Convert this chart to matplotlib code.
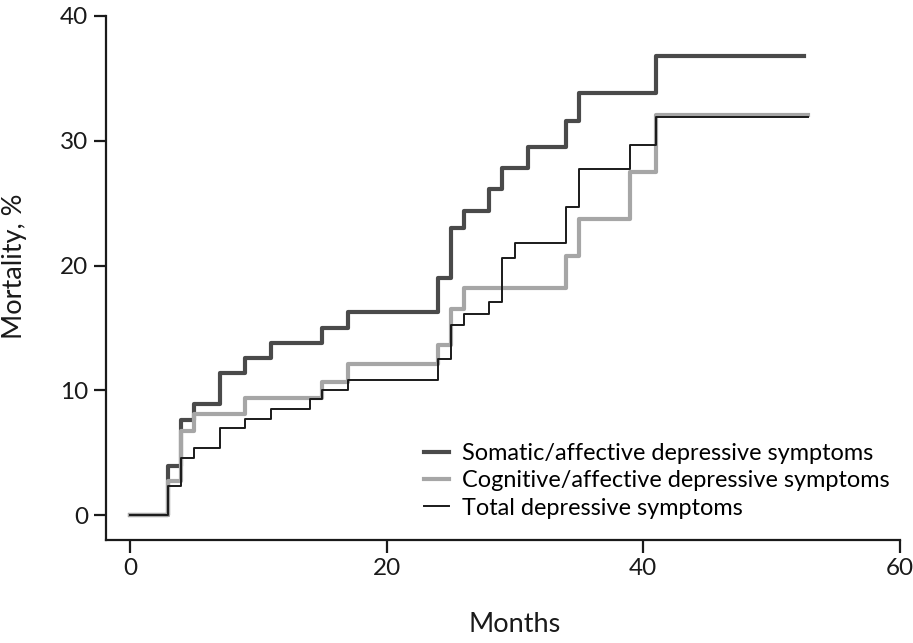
import matplotlib
matplotlib.use("Agg")
import matplotlib.pyplot as plt

plt.rcParams['font.family'] = ['Lato', 'DejaVu Sans']

# step data (months, mortality %)
somatic_t = [0, 3, 4, 5, 7, 9, 11, 15, 17, 24, 25, 26, 28, 29, 31, 34, 35, 41, 52.5]
somatic_v = [0, 3.9, 7.6, 8.9, 11.4, 12.6, 13.8, 15.0, 16.3, 19.0, 23.0, 24.4, 26.1, 27.8, 29.5, 31.6, 33.8, 36.8, 36.8]

cognitive_t = [0, 3, 4, 5, 9, 15, 17, 24, 25, 26, 34, 35, 39, 41, 52.8]
cognitive_v = [0, 2.7, 6.7, 8.1, 9.4, 10.7, 12.1, 13.6, 16.5, 18.2, 20.8, 23.7, 27.5, 32.1, 32.1]

total_t = [0, 3, 4, 5, 7, 9, 11, 14, 15, 17, 24, 25, 26, 28, 29, 30, 34, 35, 39, 41, 52.8]
total_v = [0, 2.3, 4.6, 5.4, 7.0, 7.7, 8.5, 9.3, 10.0, 10.8, 12.5, 15.2, 16.1, 17.1, 20.6, 21.8, 24.7, 27.7, 29.7, 31.9, 31.9]

labels = ["Somatic/affective depressive symptoms",
          "Cognitive/affective depressive symptoms",
          "Total depressive symptoms"]

W, H = 913, 643
fig = plt.figure(figsize=(W / 100, H / 100), dpi=100)
# axes box in pixels: left 106, right 900, top 16, bottom 540
ax = fig.add_axes([106 / W, 1 - 540 / H, (900 - 106) / W, (540 - 16) / H])

ax.step(somatic_t, somatic_v, where='post', color='#4a4a4a', lw=3.0, label=labels[0])
ax.step(cognitive_t, cognitive_v, where='post', color='#a6a6a6', lw=3.0, label=labels[1])
ax.step(total_t, total_v, where='post', color='#1a1a1a', lw=1.4, label=labels[2])

ax.set_xlim(-1.87, 60)
ax.set_ylim(-2, 40)
ax.set_xticks([0, 20, 40, 60])
ax.set_yticks([0, 10, 20, 30, 40])
ax.spines['top'].set_visible(False)
ax.spines['right'].set_visible(False)
for s in ['left', 'bottom']:
    ax.spines[s].set_linewidth(1.6)
    ax.spines[s].set_color('#1a1a1a')
ax.tick_params(direction='out', length=9, width=1.6, labelsize=17.5, colors='#1a1a1a', pad=4)

fig.text(515 / W, 1 - 625 / H, "Months", ha='center', va='center', fontsize=19.5, color='#1a1a1a')
fig.text(15 / W, 1 - 266 / H, "Mortality, %", ha='center', va='center', rotation=90,
         fontsize=19.5, color='#1a1a1a')

ax.legend(loc='upper left', bbox_to_anchor=(424 / W, 1 - 443 / H), bbox_transform=fig.transFigure,
          frameon=False, fontsize=16.9, handlelength=1.07, handletextpad=0.55,
          labelspacing=0.27, borderpad=0, borderaxespad=0)

fig.savefig("out.png", dpi=100)
